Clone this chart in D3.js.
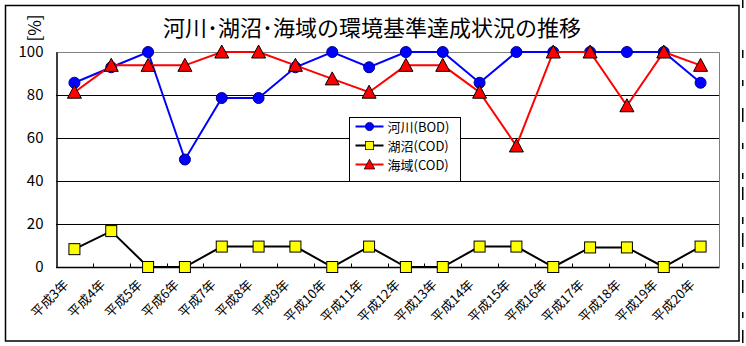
<!DOCTYPE html>
<html>
<head>
<meta charset="utf-8">
<script src="https://cdn.jsdelivr.net/npm/d3@7"></script>
<style>
  html, body { margin: 0; padding: 0; background: #fff; }
  svg { display: block; }
  text { font-family: "Noto Sans CJK JP", "Noto Sans", sans-serif; fill: #000; }
</style>
</head>
<body>
<svg id="chart" width="746" height="346"></svg>
<script>
// Fiscal years (Heisei era)
const years = ["平成3年","平成4年","平成5年","平成6年","平成7年","平成8年","平成9年",
  "平成10年","平成11年","平成12年","平成13年","平成14年","平成15年","平成16年",
  "平成17年","平成18年","平成19年","平成20年"];

// Achievement rate of environmental quality standards [%]
const riverBOD = [85.7, 92.9, 100, 50, 78.6, 78.6, 92.9, 100, 92.9, 100, 100, 85.7, 100, 100, 100, 100, 100, 85.7];
const lakeCOD  = [8.3, 16.7, 0, 0, 9.5, 9.5, 9.5, 0, 9.5, 0, 0, 9.5, 9.5, 0, 9.1, 9.1, 0, 9.5];
const seaCOD   = [81.3, 93.8, 93.8, 93.8, 100, 100, 93.8, 87.5, 81.3, 93.8, 93.8, 81.3, 56.3, 100, 100, 75, 100, 93.8];

const yTicks = [0, 20, 40, 60, 80, 100];
const seriesNames = ["河川(BOD)", "湖沼(COD)", "海域(COD)"];
const titleText = "河川･湖沼･海域の環境基準達成状況の推移";
const unitText = "[%]";

const svg = d3.select("#chart");

const plot = { left: 56, right: 719, top: 52, bottom: 267 };

const x = d3.scaleBand().domain(years).range([plot.left, plot.right]).paddingInner(0).paddingOuter(0);
const y = d3.scaleLinear().domain([0, 100]).range([plot.bottom, plot.top]);
const cx = d => x(d) + x.bandwidth() / 2;

// Outer chart frame
svg.append("rect")
  .attr("x", 5.5).attr("y", 5.5)
  .attr("width", 733.5).attr("height", 335.5)
  .attr("fill", "#fff").attr("stroke", "#000").attr("stroke-width", 1.5);

// Neighbouring sheet cell borders peeking in at the right edge
const edgeMarks = [[0, 8], [50, 58], [80, 86], [108, 122], [143, 149], [173, 179], [187, 200],
  [217, 224], [233, 247], [263, 269], [280, 293], [312, 318], [330, 343]];
svg.append("g").selectAll("rect").data(edgeMarks).join("rect")
  .attr("x", 742).attr("width", 1.5)
  .attr("y", d => d[0]).attr("height", d => d[1] - d[0])
  .attr("fill", "#000");

// Title
svg.append("text")
  .attr("x", 372).attr("y", 36)
  .attr("text-anchor", "middle")
  .attr("font-size", 22)
  .text(titleText);

// Unit label, set vertically
svg.append("text")
  .attr("transform", "translate(41,28) rotate(-90)")
  .attr("text-anchor", "middle")
  .attr("font-size", 17)
  .text(unitText);

// Gridlines
svg.append("g").selectAll("line").data(yTicks.filter(v => v > 0 && v < 100)).join("line")
  .attr("x1", plot.left).attr("x2", plot.right)
  .attr("y1", d => Math.round(y(d)) + 0.5).attr("y2", d => Math.round(y(d)) + 0.5)
  .attr("stroke", "#000").attr("stroke-width", 1);

// Plot area border (top and right in grey)
svg.append("path")
  .attr("d", `M${plot.left},${Math.round(plot.top) + 0.5}H${plot.right + 0.5}V${plot.bottom}`)
  .attr("fill", "none").attr("stroke", "#808080").attr("stroke-width", 1);

// Y axis
const yAxis = d3.axisLeft(y).tickValues(yTicks).tickSize(0).tickPadding(13);
const gy = svg.append("g").attr("transform", `translate(${plot.left + 0.5},0)`).call(yAxis);
gy.select(".domain").attr("stroke", "#000").attr("stroke-width", 1.5);
gy.selectAll("text").attr("font-size", 15).attr("font-family", "'Liberation Sans', Arial, sans-serif").attr("fill", "#000");

// X axis: tick marks at category boundaries, pointing inward
const gx = svg.append("g").attr("transform", `translate(0,${plot.bottom + 0.5})`);
gx.append("line").attr("x1", plot.left).attr("x2", plot.right + 0.5)
  .attr("stroke", "#000").attr("stroke-width", 1.5);
gx.selectAll("line.tk").data(years.slice(1)).join("line").attr("class", "tk")
  .attr("x1", d => Math.round(x(d)) + 0.5).attr("x2", d => Math.round(x(d)) + 0.5)
  .attr("y1", 0).attr("y2", -4)
  .attr("stroke", "#000").attr("stroke-width", 1);
gx.selectAll("text").data(years).join("text")
  .attr("transform", d => `translate(${cx(d) - 5},${18}) rotate(-45)`)
  .attr("text-anchor", "end")
  .attr("font-size", 13)
  .text(d => d);

// Series
const series = [
  { name: seriesNames[0], values: riverBOD, color: "#0000ff", marker: "circle" },
  { name: seriesNames[1], values: lakeCOD, color: "#000000", marker: "square" },
  { name: seriesNames[2], values: seaCOD, color: "#ff0000", marker: "triangle" }
];
const markerFill = { circle: "#0000ff", square: "#ffff00", triangle: "#ff0000" };
const markerStroke = { circle: "#000080", square: "#000", triangle: "#000" };

function drawMarker(g, type) {
  if (type === "circle") {
    g.append("circle").attr("r", 5.5)
      .attr("fill", markerFill.circle).attr("stroke", markerStroke.circle).attr("stroke-width", 1);
  } else if (type === "square") {
    g.append("rect").attr("x", -5.5).attr("y", -5.5).attr("width", 11).attr("height", 11)
      .attr("fill", markerFill.square).attr("stroke", markerStroke.square).attr("stroke-width", 1);
  } else {
    g.append("path").attr("d", "M0,-7L7,6L-7,6Z")
      .attr("fill", markerFill.triangle).attr("stroke", markerStroke.triangle).attr("stroke-width", 1);
  }
}

const line = d3.line().x((d, i) => cx(years[i])).y(d => y(d));

series.forEach(s => {
  svg.append("path").datum(s.values)
    .attr("d", line)
    .attr("fill", "none").attr("stroke", s.color).attr("stroke-width", 2);
  s.values.forEach((v, i) => {
    const g = svg.append("g").attr("transform", `translate(${cx(years[i])},${y(v)})`);
    drawMarker(g, s.marker);
  });
});

// Legend
const legend = svg.append("g").attr("transform", "translate(349.5,117.5)");
legend.append("rect").attr("width", 111).attr("height", 64)
  .attr("fill", "#fff").attr("stroke", "#000").attr("stroke-width", 1);
series.forEach((s, i) => {
  const row = legend.append("g").attr("transform", `translate(0,${9 + i * 19})`);
  row.append("line").attr("x1", 6).attr("x2", 34).attr("stroke", s.color).attr("stroke-width", 2);
  const mg = row.append("g").attr("transform", "translate(20,0) scale(0.75)");
  drawMarker(mg, s.marker);
  row.append("text").attr("x", 38).attr("y", 5).attr("font-size", 13).text(s.name);
});
</script>
</body>
</html>
